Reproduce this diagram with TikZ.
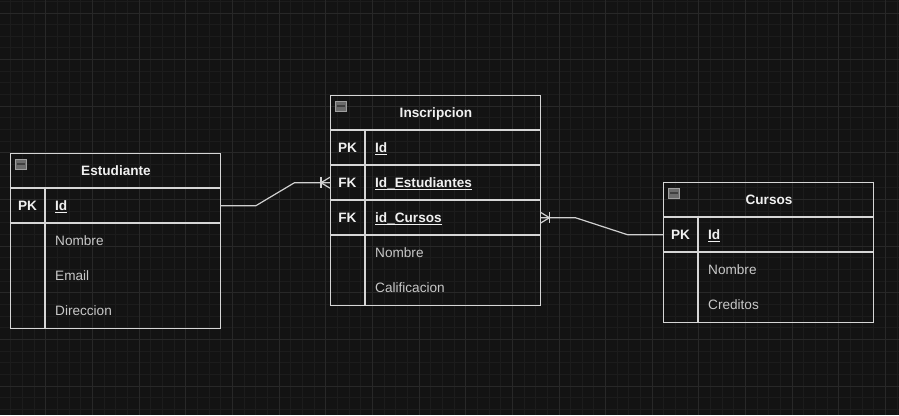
\documentclass[tikz,border=0pt]{standalone}
\usepackage{fontspec}
\setmainfont{Liberation Sans}
\definecolor{bgc}{HTML}{131313}
\definecolor{gminor}{HTML}{1C1C1C}
\definecolor{gmajor}{HTML}{282828}
\definecolor{boxc}{HTML}{D6D6D6}
\definecolor{hdrc}{HTML}{F0F0F0}
\definecolor{fldc}{HTML}{C8C8C8}
\definecolor{linec}{HTML}{D0D0D0}
\newcommand\ulin[1]{\setbox0\hbox{#1}\rlap{\rule[-2.2pt]{\wd0}{1.1pt}}\box0}
\tikzset{
  tbl/.style={draw=boxc, line width=1.3pt, anchor=north west, inner sep=0pt, minimum width=210pt},
  sep/.style={draw=boxc, line width=1.3pt},
  rowbox/.style={anchor=north west, inner sep=0pt, minimum width=210pt, minimum height=35pt},
  hdrtext/.style={font=\bfseries\fontsize{13.6}{16}\selectfont, text=hdrc, inner sep=0pt, text height=9.8pt, text depth=0pt},
  keytext/.style={font=\bfseries\fontsize{13.6}{16}\selectfont, text=hdrc, inner sep=0pt, text height=9.8pt, text depth=0pt},
  fldtext/.style={font=\fontsize{13.6}{16}\selectfont, text=fldc, inner sep=0pt, anchor=west, text height=9.8pt, text depth=0pt},
  fkfld/.style={font=\bfseries\fontsize{13.6}{16}\selectfont, text=hdrc, inner sep=0pt, anchor=west, text height=9.8pt, text depth=0pt},
  conn/.style={draw=linec, line width=1.2pt},
  icon/.style={draw=gray!75!white, fill=gray!85!black, line width=0.6pt},
  gridminorline/.style={draw=gminor, line width=1pt},
  gridmajorline/.style={draw=gmajor, line width=1pt},
}
\newcommand\collapseicon[2]{%
  \draw[icon] (#1+5,#2+6) rectangle (#1+16,#2+16);
  \fill[black!75] (#1+6.5,#2+10) rectangle (#1+14.5,#2+12);}
\begin{document}
\begin{tikzpicture}[x=1pt,y=-1pt]
\useasboundingbox (0,0) rectangle (899,415);
\fill[bgc] (0,0) rectangle (899,415);
\begin{scope}
\clip (0,0) rectangle (899,415);
\foreach \i in {0,...,78} \draw[gridminorline] ({-0.8+\i*11.6625},0) -- ({-0.8+\i*11.6625},415);
\foreach \i in {0,...,36} \draw[gridminorline] (0,{1.3375+\i*11.6625}) -- (899,{1.3375+\i*11.6625});
\foreach \i in {0,...,19} \draw[gridmajorline] ({-0.8+\i*46.65},0) -- ({-0.8+\i*46.65},415);
\foreach \i in {0,...,8} \draw[gridmajorline] (0,{13+\i*46.65}) -- (899,{13+\i*46.65});
\end{scope}

% ---------------- Estudiante ----------------
\node[tbl, minimum height=175pt] (est) at (10,153) {};
\node[rowbox] (estHead) at (10,153) {};
\node[rowbox] (estId) at (10,188) {};
\draw[sep] (10,188) -- (220,188);
\draw[sep] (10,223) -- (220,223);
\draw[sep] (45,188) -- (45,328);
\collapseicon{10}{153}
\node[hdrtext] (estT) at (116,170.5) {Estudiante};
\node[keytext] (estPK) at (27.5,205.5) {PK};
\node[fkfld] (estF1) at (55,205.5) {\ulin{Id}};
\node[fldtext] (estF2) at (55,240.5) {Nombre};
\node[fldtext] (estF3) at (55,275.5) {Email};
\node[fldtext] (estF4) at (55,310.5) {Direccion};

% ---------------- Inscripcion ----------------
\node[tbl, minimum height=210pt] (ins) at (330,95) {};
\node[rowbox] (insId) at (330,130) {};
\node[rowbox] (insE) at (330,165) {};
\node[rowbox] (insC) at (330,200) {};
\draw[sep] (330,130) -- (540,130);
\draw[sep] (330,165) -- (540,165);
\draw[sep] (330,200) -- (540,200);
\draw[sep] (330,235) -- (540,235);
\draw[sep] (365,130) -- (365,305);
\collapseicon{330}{95}
\node[hdrtext] (insT) at (436,112.5) {Inscripcion};
\node[keytext] (insK1) at (347.5,147.5) {PK};
\node[keytext] (insK2) at (347.5,182.5) {FK};
\node[keytext] (insK3) at (347.5,217.5) {FK};
\node[fkfld] (insF1) at (375,147.5) {\ulin{Id}};
\node[fkfld] (insF2) at (375,182.5) {\ulin{Id\_Estudiantes}};
\node[fkfld] (insF3) at (375,217.5) {\ulin{id\_Cursos}};
\node[fldtext] (insF4) at (375,252.5) {Nombre};
\node[fldtext] (insF5) at (375,287.5) {Calificacion};

% ---------------- Cursos ----------------
\node[tbl, minimum height=140pt] (cur) at (663,182) {};
\node[rowbox] (curId) at (663,217) {};
\draw[sep] (663,217) -- (873,217);
\draw[sep] (663,252) -- (873,252);
\draw[sep] (698,217) -- (698,322);
\collapseicon{663}{182}
\node[hdrtext] (curT) at (769,199.5) {Cursos};
\node[keytext] (curPK) at (680.5,234.5) {PK};
\node[fkfld] (curF1) at (708,234.5) {\ulin{Id}};
\node[fldtext] (curF2) at (708,269.5) {Nombre};
\node[fldtext] (curF3) at (708,304.5) {Creditos};

% ---------------- Connectors ----------------
\draw[conn] (estId.east) -- ++(35.5,0) -- ([xshift=-35.5pt]insE.west) -- (insE.west);
\draw[conn] ([xshift=-9pt,yshift=5.5pt]insE.west) -- ([xshift=-9pt,yshift=-5.5pt]insE.west);
\draw[conn] ([yshift=5.5pt]insE.west) -- ([xshift=-9pt]insE.west) -- ([yshift=-5.5pt]insE.west);

\draw[conn] (insC.east) -- ++(35,0) -- ([xshift=-35.5pt]curId.west) -- (curId.west);
\draw[conn] ([xshift=9pt,yshift=5.5pt]insC.east) -- ([xshift=9pt,yshift=-5.5pt]insC.east);
\draw[conn] ([yshift=5.5pt]insC.east) -- ([xshift=9pt]insC.east) -- ([yshift=-5.5pt]insC.east);
\end{tikzpicture}
\end{document}
